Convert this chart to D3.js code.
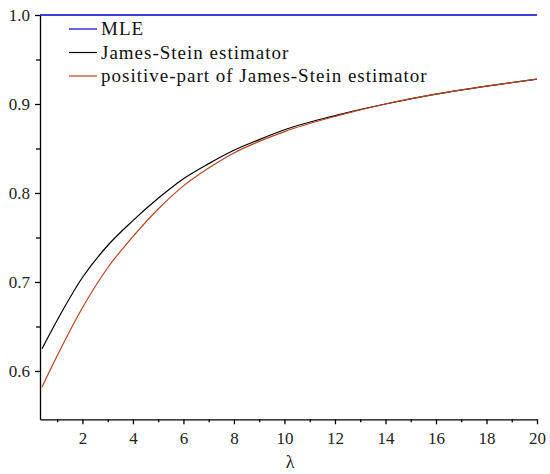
<!DOCTYPE html>
<html>
<head>
<meta charset="utf-8">
<script src="https://cdn.jsdelivr.net/npm/d3@7"></script>
<style>
  body { margin: 0; background: #fff; }
  .axis path, .axis line { stroke: #000; stroke-width: 1.3px; }
  .axis text { font-family: 'Liberation Serif', 'DejaVu Serif', 'Times New Roman', Times, 'Noto Serif', serif; font-size: 17px; fill: #222; }
  .legend text { font-family: 'Liberation Serif', 'DejaVu Serif', 'Times New Roman', Times, 'Noto Serif', serif; font-size: 19px; fill: #111; letter-spacing: 1px; }
  .xlabel { font-family: 'Liberation Serif', 'DejaVu Serif', 'Times New Roman', Times, 'Noto Serif', serif; font-size: 18px; fill: #222; }
</style>
</head>
<body>
<div id="chart"></div>
<script>
// lambda grid the curves were read at
var lambdas = [0.4, 1, 2, 3, 4, 5, 6, 7, 8, 9, 10, 12, 14, 16, 18, 20];
// MLE risk (constant)
var mle = [1, 1, 1, 1, 1, 1, 1, 1, 1, 1, 1, 1, 1, 1, 1, 1];
// James-Stein estimator
var jamesStein = [0.625, 0.657, 0.705, 0.741, 0.769, 0.794, 0.816, 0.833, 0.848, 0.860, 0.871, 0.887, 0.900, 0.911, 0.920, 0.928];
// positive-part of James-Stein estimator
var positivePart = [0.582, 0.617, 0.671, 0.716, 0.751, 0.782, 0.808, 0.828, 0.845, 0.858, 0.869, 0.886, 0.900, 0.911, 0.920, 0.928];

var xMajor = [2, 4, 6, 8, 10, 12, 14, 16, 18, 20];
var xMinor = [1, 3, 5, 7, 9, 11, 13, 15, 17, 19];
var yMajor = [0.6, 0.7, 0.8, 0.9, 1.0];
var yMinor = [0.65, 0.75, 0.85, 0.95];

var seriesNames = ["MLE", "James-Stein estimator", "positive-part of James-Stein estimator"];
var seriesColors = ["#0000c8", "#000000", "#b5441f"];

var width = 550, height = 474;
var svg = d3.select("#chart").append("svg")
    .attr("width", width)
    .attr("height", height);

var x = d3.scaleLinear().domain([0.32, 20]).range([40, 537]);
var y = d3.scaleLinear().domain([0.5457, 1.0]).range([419.3, 15]);

// x axis
svg.append("g").attr("class", "axis")
    .attr("transform", "translate(0,419.3)")
    .call(d3.axisBottom(x).tickValues(xMajor).tickSize(5).tickPadding(8).tickSizeOuter(0).tickFormat(d3.format("d")));
svg.append("g").attr("class", "axis")
    .attr("transform", "translate(0,419.3)")
    .call(d3.axisBottom(x).tickValues(xMinor).tickSize(3).tickFormat(""))
    .select(".domain").remove();

// y axis
svg.append("g").attr("class", "axis")
    .attr("transform", "translate(40,0)")
    .call(d3.axisLeft(y).tickValues(yMajor).tickSize(5).tickPadding(5).tickSizeOuter(0).tickFormat(d3.format(".1f")));
svg.append("g").attr("class", "axis")
    .attr("transform", "translate(40,0)")
    .call(d3.axisLeft(y).tickValues(yMinor).tickSize(4).tickFormat(""))
    .select(".domain").remove();

svg.selectAll(".axis").attr("font-family", null);

// lambda label
svg.append("text")
    .attr("class", "xlabel")
    .attr("x", 290).attr("y", 468)
    .attr("text-anchor", "middle")
    .text("λ");

var line = d3.line()
    .x(function(d) { return x(d[0]); })
    .y(function(d) { return y(d[1]); })
    .curve(d3.curveMonotoneX);

// MLE spans the full axis
svg.append("line")
    .attr("x1", x(0.32)).attr("x2", x(20))
    .attr("y1", y(mle[0])).attr("y2", y(mle[mle.length - 1]))
    .attr("stroke", seriesColors[0]).attr("stroke-width", 1.3);

[jamesStein, positivePart].forEach(function(vals, i) {
  svg.append("path")
      .datum(lambdas.map(function(l, j) { return [l, vals[j]]; }))
      .attr("fill", "none")
      .attr("stroke", seriesColors[i + 1])
      .attr("stroke-width", 1.2)
      .attr("d", line);
});

// legend
var legend = svg.append("g").attr("class", "legend");
seriesNames.forEach(function(name, i) {
  var ly = 29 + i * 23.5;
  legend.append("line")
      .attr("x1", 69).attr("x2", 97)
      .attr("y1", ly).attr("y2", ly)
      .attr("stroke", seriesColors[i]).attr("stroke-width", 1.2);
  legend.append("text")
      .attr("x", 101).attr("y", ly + 6)
      .text(name);
});
</script>
</body>
</html>
